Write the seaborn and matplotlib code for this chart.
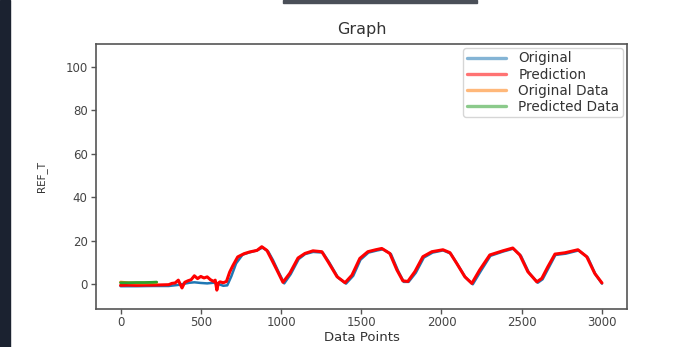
import matplotlib
matplotlib.use("Agg")
import matplotlib.pyplot as plt
from matplotlib.patches import Rectangle
from matplotlib.lines import Line2D
import seaborn as sns

# ---- data ----
orig_x = [0, 100, 200, 300, 360, 400, 430, 460, 500, 540,
          580, 610, 640, 665, 690, 720, 760, 800, 850, 885,
          920, 950, 985, 1020, 1060, 1110, 1150, 1200, 1260, 1300,
          1355, 1405, 1450, 1495, 1545, 1600, 1635, 1685, 1730, 1765,
          1795, 1840, 1890, 1945, 2010, 2058, 2100, 2150, 2195, 2245,
          2305, 2385, 2448, 2495, 2545, 2600, 2630, 2668, 2710, 2775,
          2855, 2912, 2960, 3000]
orig_y = [-1.0, -1.0, -0.9, -0.9, -0.4, 0.2, 0.6, 0.8, 0.5, 0.3,
          0.6, 0.0, -0.8, -0.6, 3.5, 9.5, 13.5, 14.5, 15.5, 16.8,
          15.0, 11.0, 5.5, 0.3, 4.5, 11.5, 13.8, 14.8, 14.5, 10.0,
          3.0, 0.2, 3.8, 11.2, 14.5, 15.5, 16.0, 13.8, 6.0, 1.0,
          1.0, 5.2, 12.2, 14.5, 15.5, 14.0, 9.0, 3.0, -0.1, 6.0,
          13.0, 15.0, 16.3, 13.0, 5.2, 0.6, 2.2, 7.5, 13.4, 14.0,
          15.5, 12.2, 4.4, 0.2]

pred_x = [0, 50, 100, 150, 200, 250, 300, 320, 340, 360,
          370, 383, 400, 420, 440, 460, 480, 500, 520, 540,
          560, 580, 590, 600, 610, 620, 640, 660, 680, 700,
          730, 770, 805, 850, 880, 912, 940, 974, 1012, 1055,
          1106, 1149, 1199, 1254, 1293, 1349, 1399, 1442, 1491, 1541,
          1590, 1628, 1678, 1722, 1759, 1790, 1834, 1884, 1940, 2009,
          2052, 2095, 2145, 2189, 2238, 2301, 2382, 2444, 2488, 2538,
          2594, 2625, 2663, 2707, 2769, 2850, 2905, 2955, 3000]
pred_y = [-0.6, -0.5, -0.6, -0.5, -0.5, -0.4, -0.3, 0.3, 0.5, 1.8,
          0.2, -1.8, 0.8, 1.5, 2.0, 3.8, 2.5, 3.5, 2.8, 3.3,
          2.0, 1.2, 1.8, -2.8, 0.5, 1.0, 0.6, 1.2, 5.5, 8.5,
          12.5, 14.0, 14.8, 15.5, 17.2, 15.5, 11.5, 6.5, 0.8, 5.0,
          12.0, 14.1, 15.3, 14.9, 10.3, 3.4, 0.6, 4.1, 11.8, 14.9,
          15.8, 16.4, 14.1, 6.5, 1.5, 1.2, 5.7, 12.6, 14.9, 15.8,
          14.5, 9.5, 3.4, 0.3, 6.5, 13.4, 15.3, 16.6, 13.4, 5.7,
          1.0, 2.6, 8.0, 13.8, 14.4, 15.8, 12.6, 4.9, 0.5]

odata_x = [0, 50, 100, 150, 200, 225]
odata_y = [0.9, 0.6, 0.5, 0.5, 0.6, 0.6]
pdata_x = [0, 50, 100, 150, 200, 225]
pdata_y = [0.6, 0.6, 0.7, 0.7, 0.8, 0.9]

labels = ["Original", "Prediction", "Original Data", "Predicted Data"]
colors = ["#1f77b4", "#ff0000", "#ff7f0e", "#2ca02c"]

sns.set_style("ticks")
plt.rcParams["font.family"] = ["DejaVu Sans"]

fig = plt.figure(figsize=(6.82, 3.47), dpi=100)
ax = fig.add_axes([96 / 682, 1 - 309 / 347, 531 / 682, 265 / 347])

series = [(orig_x, orig_y), (pred_x, pred_y), (odata_x, odata_y), (pdata_x, pdata_y)]
widths = [1.8, 2.2, 2.0, 2.0]
for (xs, ys), lab, col, lw in zip(series, labels, colors, widths):
    sns.lineplot(x=xs, y=ys, ax=ax, color=col, linewidth=lw, estimator=None,
                 sort=False, label=lab, legend=False)

ax.set_xlim(-153, 3156)
ax.set_ylim(-11.5, 110.6)
ax.set_xticks([0, 500, 1000, 1500, 2000, 2500, 3000])
ax.set_yticks([0, 20, 40, 60, 80, 100])
ax.tick_params(axis="both", labelsize=8.5, length=3.5, width=1, color="#555555",
               labelcolor="#444444")
ax.tick_params(axis="x", pad=1.5)
ax.tick_params(axis="y", pad=2.5)
for s in ax.spines.values():
    s.set_color("#555555")
    s.set_linewidth(1.2)

ax.set_title("Graph", fontsize=11.5, color="#333333", pad=7)
ax.set_xlabel("Data Points", fontsize=9.5, color="#333333")
ax.xaxis.set_label_coords(0.5, -0.108)
ax.xaxis.label.set_va("center")
ax.set_ylabel("REF_T", fontsize=7.5, color="#333333")
ax.yaxis.set_label_coords(-0.102, 0.5)
ax.yaxis.label.set_va("center")

handles = [Line2D([0], [0], color=c, lw=2.4, alpha=0.55) for c in colors]
leg = ax.legend(handles, labels, loc="upper right", fontsize=9.8,
                handlelength=2.9, handletextpad=0.9, borderaxespad=0.3,
                labelspacing=0.15, borderpad=0.25, frameon=True)
for t in leg.get_texts():
    t.set_color("#333333")

# dark strip on the left and bar on top, as in the screenshot
fig.add_artist(Rectangle((0, 0), 10 / 682, 1, transform=fig.transFigure,
                         color="#1b2230", zorder=10))
fig.add_artist(Rectangle((283 / 682, 1 - 2.5 / 347), 194 / 682, 2.5 / 347,
                         transform=fig.transFigure, color="#4a4f58", zorder=10))

fig.savefig("out.png", dpi=100)
